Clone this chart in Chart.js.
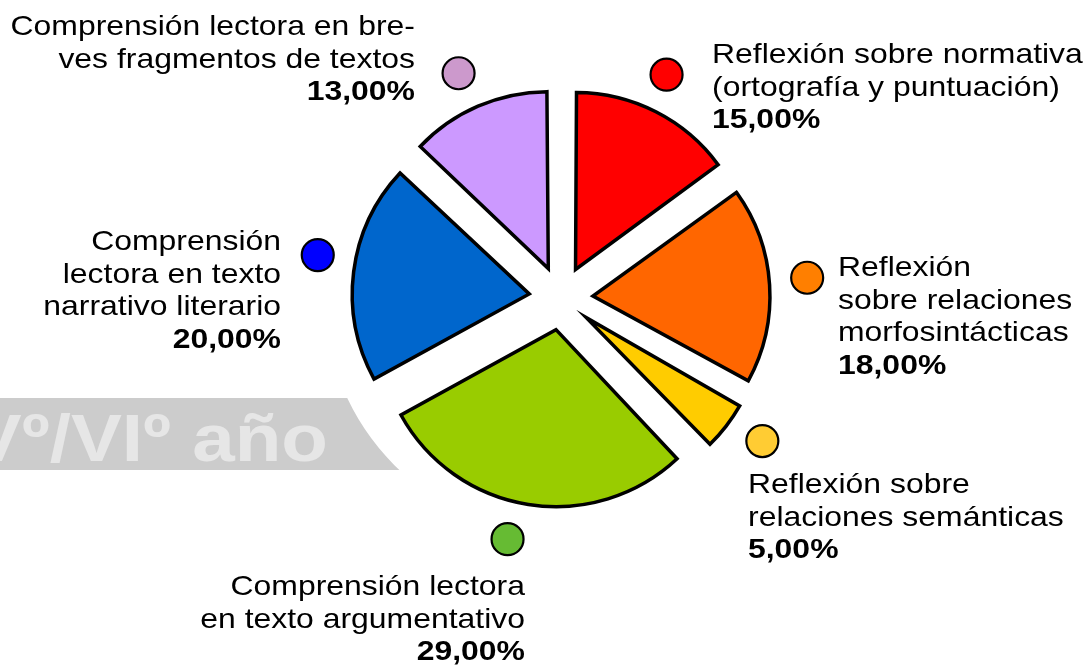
<!DOCTYPE html>
<html>
<head>
<meta charset="utf-8">
<script src="https://cdn.jsdelivr.net/npm/chart.js@4.4.1/dist/chart.umd.min.js"></script>
<style>
  html, body { margin: 0; padding: 0; background: #fff; overflow: hidden; }
  canvas { display: block; }
</style>
</head>
<body>
<canvas id="pie" width="1088" height="665"></canvas>
<script>
// ── Data (clockwise from 12 o'clock) ─────────────────────────
const categories = [
  ['Reflexión sobre normativa', '(ortografía y puntuación)'],
  ['Reflexión', 'sobre relaciones', 'morfosintácticas'],
  ['Reflexión sobre', 'relaciones semánticas'],
  ['Comprensión lectora', 'en texto argumentativo'],
  ['Comprensión', 'lectora en texto', 'narrativo literario'],
  ['Comprensión lectora en bre-', 'ves fragmentos de textos'],
];
const values = [15, 18, 5, 29, 20, 13];
const bannerText = 'Vº/VIº año';

// ── Styles ───────────────────────────────────────────────────
const sliceColors  = ['#FF0000', '#FF6600', '#FFCC00', '#99CC00', '#0066CC', '#CC99FF'];
const markerColors = ['#FF0000', '#FF7F00', '#FFCC33', '#66BB33', '#0000FF', '#CC99CC'];

// label anchor (first baseline), alignment, marker angle nudge in degrees
const labelPos = [
  { x: 712, y: 63,  align: 'left',  nudge: -1.7 },
  { x: 838, y: 276, align: 'left',  nudge: -1.1 },
  { x: 748, y: 493, align: 'left',  nudge: -2.4 },
  { x: 525, y: 595, align: 'right', nudge: 3.5 },
  { x: 281, y: 250, align: 'right', nudge: 2.8 },
  { x: 415, y: 35,  align: 'right', nudge: -1.1 },
];

const R        = 177;   // pie radius
const OFFSET   = 128;   // chart.js moves arcs offset/4 px
const MARKER_R = 247;
const LINE_H   = 32.5;
const FONT     = '"Liberation Sans", Arial, sans-serif';
const SX       = 1.14;  // text is a bit wide in the source

function pct(v) { return v.toFixed(2).replace('.', ',') + '%'; }

function txt(ctx, s, x, y, align, bold, size) {
  ctx.save();
  ctx.translate(x, y);
  ctx.scale(SX, 1);
  ctx.font = (bold ? 'bold ' : '') + size + 'px ' + FONT;
  ctx.textAlign = align;
  ctx.textBaseline = 'alphabetic';
  ctx.fillText(s, 0, 0);
  ctx.restore();
}

const decor = {
  id: 'decor',
  beforeDraw(chart) {
    const ctx = chart.ctx;
    const a0 = chart.getDatasetMeta(0).data[0];
    ctx.save();
    ctx.beginPath();
    ctx.rect(0, 398, 430, 72);
    ctx.arc(a0.x, a0.y, 236, 0, Math.PI * 2, true);
    ctx.clip('evenodd');
    ctx.fillStyle = '#CCCCCC';
    ctx.fillRect(0, 398, 430, 72);
    ctx.fillStyle = '#E6E6E6';
    txt(ctx, bannerText, 328, 461, 'right', true, 67);
    ctx.restore();
  },
  beforeDatasetsDraw(chart) {
    // cancel the radius growth chart.js adds to narrow offset arcs
    chart.getDatasetMeta(0).data.forEach(a => {
      const c = a.endAngle - a.startAngle;
      const fix = 1 - Math.sin(Math.min(Math.PI, c));
      a.outerRadius = R - (OFFSET / 4) * fix;
    });
  },
  afterDraw(chart) {
    const ctx = chart.ctx;
    chart.getDatasetMeta(0).data.forEach((a, i) => {
      const lp = labelPos[i];
      const ang = (a.startAngle + a.endAngle) / 2 + lp.nudge * Math.PI / 180;
      const mx = a.x + Math.cos(ang) * MARKER_R;
      const my = a.y + Math.sin(ang) * MARKER_R;
      ctx.save();
      ctx.beginPath();
      ctx.arc(mx, my, 16, 0, Math.PI * 2);
      ctx.fillStyle = markerColors[i];
      ctx.fill();
      ctx.lineWidth = 2.2;
      ctx.strokeStyle = '#000';
      ctx.stroke();
      ctx.restore();

      ctx.fillStyle = '#000';
      const lines = categories[i];
      lines.forEach((s, k) => txt(ctx, s, lp.x, lp.y + k * LINE_H, lp.align, false, 28));
      txt(ctx, pct(values[i]), lp.x, lp.y + lines.length * LINE_H, lp.align, true, 28);
    });
  }
};

new Chart(document.getElementById('pie'), {
  type: 'pie',
  data: {
    labels: categories.map(l => l.join(' ')),
    datasets: [{
      data: values,
      backgroundColor: sliceColors,
      borderColor: '#000',
      borderWidth: 3.5,
      borderJoinStyle: 'miter',
      offset: OFFSET,
      radius: R,
    }],
  },
  options: {
    responsive: false,
    animation: false,
    events: [],
    layout: { padding: { left: 34, right: 0, top: 0, bottom: 69 } },
    plugins: { legend: { display: false }, tooltip: { enabled: false } },
  },
  plugins: [decor],
});
</script>
</body>
</html>
